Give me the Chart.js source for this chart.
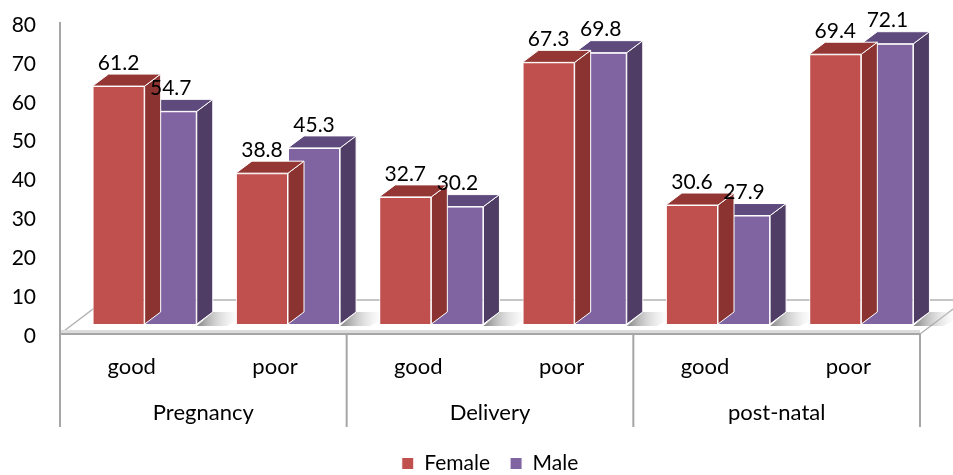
<!DOCTYPE html>
<html>
<head>
<meta charset="utf-8">
<script src="https://cdn.jsdelivr.net/npm/chart.js@4"></script>
<style>
  html, body { margin: 0; padding: 0; background: #fff; }
  #chart { display: block; }
</style>
</head>
<body>
<canvas id="chart" width="953" height="475"></canvas>
<script>
// data
const categories = ['good', 'poor', 'good', 'poor', 'good', 'poor'];
const groups = ['Pregnancy', 'Delivery', 'post-natal'];
const female = [61.2, 38.8, 32.7, 67.3, 30.6, 69.4];
const male = [54.7, 45.3, 30.2, 69.8, 27.9, 72.1];
const yTicks = [0, 10, 20, 30, 40, 50, 60, 70, 80];

// 3d look: bars sit a bit behind the front edge of the floor
const SHIFT_X = 13, SHIFT_Y = -12;
const DEPTH_X = 16, DEPTH_Y = -12;
const FLOOR_X = 45, FLOOR_Y = -34;

const faceColors = [
  { top: '#943734', side: '#8a3330' },
  { top: '#5f4a7e', side: '#4f3d66' },
];

const floorPlugin = {
  id: 'floor',
  beforeDatasetsDraw(chart) {
    const { ctx, chartArea } = chart;
    const y0 = chart.scales.y.getPixelForValue(0) - 2;
    const left = chartArea.left, right = chartArea.right;
    ctx.save();
    // floor outline
    ctx.strokeStyle = '#b3b3b3';
    ctx.lineWidth = 1.5;
    ctx.beginPath();
    ctx.moveTo(left, y0);
    ctx.lineTo(left + FLOOR_X, y0 + FLOOR_Y);
    ctx.lineTo(right + FLOOR_X, y0 + FLOOR_Y);
    ctx.moveTo(right, y0);
    ctx.lineTo(right + FLOOR_X, y0 + FLOOR_Y);
    ctx.stroke();
    // front edge of the floor
    ctx.fillStyle = '#dcdcdc';
    ctx.fillRect(left, y0 - 4, right - left, 4);
    ctx.strokeStyle = '#a6a6a6';
    ctx.lineWidth = 2;
    ctx.beginPath();
    ctx.moveTo(left, y0);
    ctx.lineTo(right, y0);
    ctx.stroke();

    // shadows behind each pair of bars
    const metaM = chart.getDatasetMeta(1);
    metaM.data.forEach((bar) => {
      const { x, base, width } = bar.getProps(['x', 'base', 'width'], true);
      const xr = x + width / 2 + SHIFT_X;
      const yb = base + SHIFT_Y;
      const g = ctx.createLinearGradient(xr, 0, xr + 48, 0);
      g.addColorStop(0, 'rgba(110,110,110,0.85)');
      g.addColorStop(1, 'rgba(255,255,255,0)');
      ctx.fillStyle = g;
      ctx.beginPath();
      ctx.moveTo(xr, yb + 2);
      ctx.lineTo(xr + DEPTH_X, yb + DEPTH_Y);
      ctx.lineTo(xr + DEPTH_X + 40, yb + DEPTH_Y);
      ctx.lineTo(xr + 30, yb + 2);
      ctx.closePath();
      ctx.fill();
    });
    ctx.restore();
  },
  beforeDatasetDraw(chart) {
    chart.ctx.save();
    chart.ctx.translate(SHIFT_X, SHIFT_Y);
  },
  afterDatasetDraw(chart, args) {
    const { ctx } = chart;
    const colors = faceColors[args.index];
    ctx.strokeStyle = '#ffffff';
    ctx.lineWidth = 1;
    args.meta.data.forEach((bar) => {
      const { x, y, base, width } = bar.getProps(['x', 'y', 'base', 'width'], true);
      const l = x - width / 2, r = x + width / 2;
      ctx.fillStyle = colors.side;
      ctx.beginPath();
      ctx.moveTo(r, y);
      ctx.lineTo(r + DEPTH_X, y + DEPTH_Y);
      ctx.lineTo(r + DEPTH_X, base + DEPTH_Y);
      ctx.lineTo(r, base);
      ctx.closePath();
      ctx.fill();
      ctx.stroke();
      ctx.fillStyle = colors.top;
      ctx.beginPath();
      ctx.moveTo(l, y);
      ctx.lineTo(l + DEPTH_X, y + DEPTH_Y);
      ctx.lineTo(r + DEPTH_X, y + DEPTH_Y);
      ctx.lineTo(r, y);
      ctx.closePath();
      ctx.fill();
      ctx.stroke();
    });
    ctx.restore();
  },
  afterDatasetsDraw(chart) {
    const { ctx, chartArea } = chart;
    const xs = chart.scales.x;
    const y0 = chart.scales.y.getPixelForValue(0) - 2;
    ctx.save();
    // value labels
    ctx.fillStyle = '#000';
    ctx.font = '21px Lato';
    ctx.textAlign = 'center';
    ctx.textBaseline = 'middle';
    chart.data.datasets.forEach((ds, i) => {
      chart.getDatasetMeta(i).data.forEach((bar, j) => {
        const { x, y } = bar.getProps(['x', 'y'], true);
        ctx.fillText(ds.data[j].toFixed(1), x + SHIFT_X, y + SHIFT_Y - 23);
      });
    });
    // value axis line and group separators
    const bottom = chart.scales.x2.bottom - 6;
    ctx.strokeStyle = '#a6a6a6';
    ctx.lineWidth = 2;
    ctx.beginPath();
    ctx.moveTo(chartArea.left, chartArea.top - 3);
    ctx.lineTo(chartArea.left, bottom);
    const step = (xs.right - xs.left) / groups.length;
    for (let i = 1; i <= groups.length; i++) {
      const gx = xs.left + i * step;
      ctx.moveTo(gx, y0);
      ctx.lineTo(gx, bottom);
    }
    ctx.stroke();
    ctx.restore();
  },
};

Chart.defaults.font.family = 'Lato';
Chart.defaults.color = '#000';

new Chart(document.getElementById('chart'), {
  type: 'bar',
  data: {
    labels: categories,
    datasets: [
      {
        label: 'Female',
        data: female,
        backgroundColor: '#c0504d',
        borderColor: '#ffffff',
        borderWidth: 1,
        clip: false,
      },
      {
        label: 'Male',
        data: male,
        backgroundColor: '#8064a2',
        borderColor: '#ffffff',
        borderWidth: 1,
        clip: false,
      },
    ],
  },
  options: {
    responsive: false,
    animation: false,
    layout: { padding: { top: 25, right: 33, left: 0, bottom: -9 } },
    datasets: { bar: { categoryPercentage: 0.727, barPercentage: 1 } },
    scales: {
      y: {
        min: yTicks[0],
        max: yTicks[yTicks.length - 1],
        afterFit: (scale) => {
          scale.width = 60;
          // tick padding is horizontal only here
          scale.paddingTop = 12;
          scale.paddingBottom = 12;
        },
        ticks: { stepSize: 10, padding: 24, font: { size: 21 } },
        grid: { display: false, drawTicks: false },
        border: { display: false },
      },
      x: {
        weight: 0,
        afterFit: (scale) => { scale.height = 47; },
        ticks: { padding: 18, font: { size: 22 } },
        grid: { display: false, drawTicks: false },
        border: { display: false },
      },
      x2: {
        type: 'category',
        position: 'bottom',
        labels: groups,
        weight: 1,
        afterFit: (scale) => { scale.height = 50; },
        ticks: { padding: 17, font: { size: 22 } },
        grid: { display: false, drawTicks: false },
        border: { display: false },
      },
    },
    plugins: {
      legend: {
        position: 'bottom',
        fullSize: false,
        labels: { boxWidth: 12, boxHeight: 12, padding: 20, font: { size: 21 } },
      },
      tooltip: { enabled: false },
    },
  },
  plugins: [floorPlugin],
});
</script>
</body>
</html>
